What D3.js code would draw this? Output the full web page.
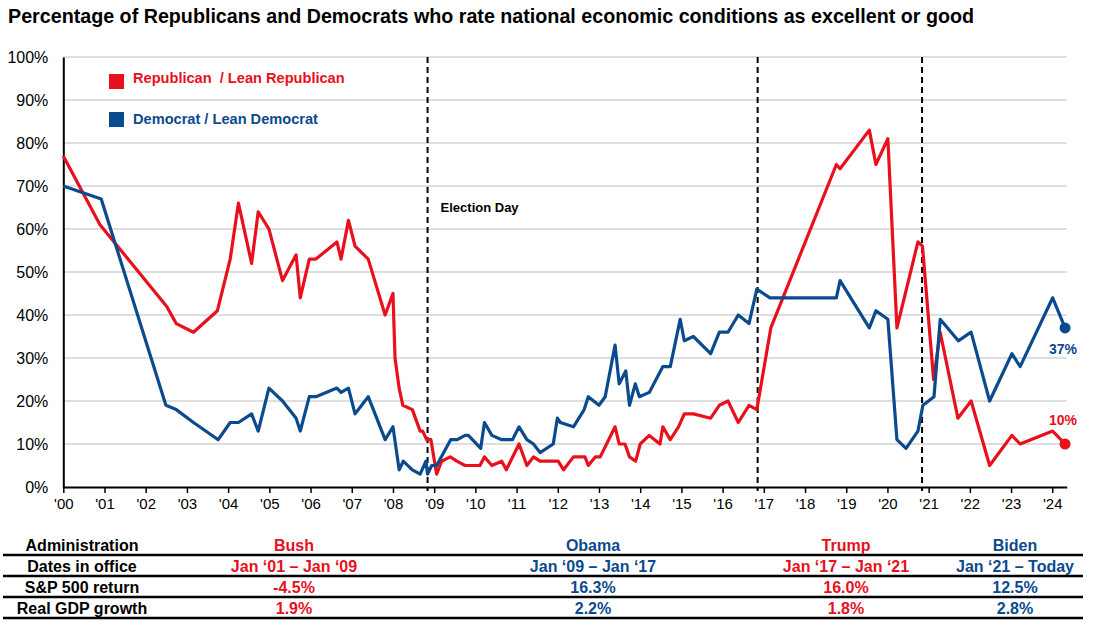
<!DOCTYPE html>
<html><head><meta charset="utf-8">
<script src="https://cdn.jsdelivr.net/npm/d3@7/dist/d3.min.js"></script>
<style>
html,body{margin:0;padding:0;background:#fff;}
svg{display:block;font-family:Arial,"Liberation Sans",sans-serif;}
</style></head>
<body>
<svg id="c" width="1093" height="631"></svg>
<script>
// ---------- data ----------
const repDates = [2000.00,2000.89,2002.51,2002.74,2003.16,2003.74,2004.05,2004.25,2004.57,2004.73,2004.99,2005.32,2005.65,2005.75,2005.97,2006.13,2006.64,2006.74,2006.92,2007.08,2007.40,2007.81,2008.00,2008.05,2008.15,2008.24,2008.47,2008.66,2008.72,2008.82,2008.92,2009.06,2009.18,2009.39,2009.55,2009.75,2010.11,2010.22,2010.40,2010.64,2010.75,2011.06,2011.25,2011.41,2011.57,2012.01,2012.14,2012.38,2012.66,2012.74,2012.91,2013.03,2013.39,2013.49,2013.63,2013.74,2013.89,2014.00,2014.22,2014.48,2014.55,2014.73,2014.93,2015.07,2015.29,2015.71,2015.92,2016.13,2016.38,2016.64,2016.83,2017.17,2018.76,2018.85,2019.56,2019.72,2020.01,2020.23,2020.74,2020.85,2021.12,2021.28,2021.71,2022.03,2022.48,2023.02,2023.22,2024.01,2024.31];
const repValues = [77,61,42,38,36,41,53,66,52,64,60,48,54,44,53,53,57,53,62,56,53,40,45,30,23,19,18,13,13,11,11,3,6,7,6,5,5,7,5,6,4,10,5,7,6,6,4,7,7,5,7,7,14,10,10,7,6,10,12,10,14,11,14,17,17,16,19,20,15,19,18,37,75,74,83,75,81,37,57,56,25,36,16,20,5,12,10,13,10];

const demDates = [2000.00,2000.92,2002.49,2002.74,2003.16,2003.76,2004.05,2004.25,2004.57,2004.73,2004.99,2005.32,2005.65,2005.75,2005.97,2006.13,2006.64,2006.74,2006.92,2007.08,2007.40,2007.81,2008.00,2008.15,2008.25,2008.47,2008.66,2008.80,2008.84,2008.94,2009.06,2009.40,2009.56,2009.75,2009.83,2010.13,2010.22,2010.40,2010.64,2010.90,2011.06,2011.25,2011.41,2011.57,2011.89,2011.99,2012.06,2012.38,2012.64,2012.74,2013.00,2013.15,2013.39,2013.49,2013.65,2013.74,2013.88,2013.98,2014.22,2014.55,2014.73,2014.97,2015.07,2015.29,2015.71,2015.92,2016.13,2016.38,2016.64,2016.83,2017.15,2018.76,2018.85,2019.56,2019.72,2020.01,2020.23,2020.45,2020.74,2020.86,2021.13,2021.28,2021.72,2022.03,2022.48,2023.02,2023.22,2024.01,2024.31];
const demValues = [70,67,19,18,15,11,15,15,17,13,23,20,16,13,21,21,23,22,23,17,21,11,14,4,6,4,3,6,3,5,5,11,11,12,12,9,15,12,11,11,14,11,10,8,10,16,15,14,18,21,19,21,33,24,27,19,24,21,22,28,28,39,34,35,31,36,36,40,38,46,44,44,48,37,41,39,11,9,13,19,21,39,34,36,20,31,28,44,37];

const electionDays = [2008.84, 2016.85, 2020.84];
const yearTicks = d3.range(2000, 2025);
const yTicks = d3.range(0, 101, 10);

const seriesNames = ["Republican  / Lean Republican", "Democrat / Lean Democrat"];
const rowLabels = ["Administration", "Dates in office", "S&P 500 return", "Real GDP growth"];
const admins = ["Bush", "Obama", "Trump", "Biden"];
const officeDates = ["Jan \u201801 \u2013 Jan \u201809", "Jan \u201809 \u2013 Jan \u201817", "Jan \u201817 \u2013 Jan \u201821", "Jan \u201821 \u2013 Today"];
const sp500 = ["-4.5%", "16.3%", "16.0%", "12.5%"];
const gdp = ["1.9%", "2.2%", "1.8%", "2.8%"];

// ---------- styles / layout ----------
const RED = "#e8101c", BLUE = "#0b4a8c";
const adminColors = [RED, BLUE, RED, BLUE];
const plot = {left: 63.3, right: 1066.7, top: 57, bottom: 487};
const svg = d3.select("#c");

svg.append("text").attr("x", 8).attr("y", 23)
  .attr("font-size", 19.7).attr("font-weight", "bold").attr("fill", "#000")
  .text("Percentage of Republicans and Democrats who rate national economic conditions as excellent or good");

const x = d3.scaleLinear().domain([2000, 2024.35]).range([plot.left, plot.right]);
const y = d3.scaleLinear().domain([0, 100]).range([plot.bottom, plot.top]);

// gridlines
svg.append("g").selectAll("line").data(yTicks.filter(d => d > 0)).join("line")
  .attr("x1", plot.left).attr("x2", plot.right)
  .attr("y1", d => y(d)).attr("y2", d => y(d))
  .attr("stroke", "#d3d3d3").attr("stroke-width", 1.5);

// y axis
const yAxis = svg.append("g").attr("transform", `translate(${plot.left},0)`)
  .call(d3.axisLeft(y).tickValues(yTicks).tickSize(0).tickPadding(15).tickFormat(d => d + "%"));
yAxis.select(".domain").attr("stroke", "#000").attr("stroke-width", 2);
yAxis.selectAll("text").attr("font-size", 16).attr("font-family", "Arial, 'Liberation Sans', sans-serif").attr("fill", "#000");

// x axis
const xAxis = svg.append("g").attr("transform", `translate(0,${plot.bottom})`)
  .call(d3.axisBottom(x).tickValues(yearTicks).tickSize(6).tickPadding(5).tickSizeOuter(0)
    .tickFormat(d => "'" + String(d).slice(2)));
xAxis.select(".domain").attr("stroke", "#000").attr("stroke-width", 2);
xAxis.selectAll(".tick line").attr("stroke", "#000").attr("stroke-width", 1.5);
xAxis.selectAll("text").attr("font-size", 15).attr("font-family", "Arial, 'Liberation Sans', sans-serif").attr("fill", "#000");

// election day dashed lines
svg.append("g").selectAll("line").data(electionDays).join("line")
  .attr("x1", d => x(d)).attr("x2", d => x(d))
  .attr("y1", plot.top).attr("y2", plot.bottom + 4)
  .attr("stroke", "#000").attr("stroke-width", 2).attr("stroke-dasharray", "6,4");
svg.append("text").attr("x", x(electionDays[0]) + 13).attr("y", 212)
  .attr("font-size", 13).attr("font-weight", "bold").text("Election Day");

// lines
const line = d3.line().x(d => x(d[0])).y(d => y(d[1]));
const rep = repDates.map((d, i) => [d, repValues[i]]);
const dem = demDates.map((d, i) => [d, demValues[i]]);
svg.append("path").datum(rep).attr("d", line).attr("fill", "none")
  .attr("stroke", RED).attr("stroke-width", 3.2).attr("stroke-linejoin", "round");
svg.append("path").datum(dem).attr("d", line).attr("fill", "none")
  .attr("stroke", BLUE).attr("stroke-width", 3.2).attr("stroke-linejoin", "round");

// end dots + labels
const lastR = rep[rep.length - 1], lastD = dem[dem.length - 1];
svg.append("circle").attr("cx", x(lastD[0])).attr("cy", y(lastD[1])).attr("r", 5.5).attr("fill", BLUE);
svg.append("circle").attr("cx", x(lastR[0])).attr("cy", y(lastR[1])).attr("r", 5.5).attr("fill", RED);
svg.append("text").attr("x", x(lastD[0]) - 2).attr("y", y(lastD[1]) + 26).attr("text-anchor", "middle")
  .attr("font-size", 14).attr("font-weight", "bold").attr("fill", BLUE).text(lastD[1] + "%");
svg.append("text").attr("x", x(lastR[0]) - 2).attr("y", y(lastR[1]) - 19).attr("text-anchor", "middle")
  .attr("font-size", 14).attr("font-weight", "bold").attr("fill", RED).text(lastR[1] + "%");

// legend
const legColors = [RED, BLUE];
const leg = svg.append("g");
seriesNames.forEach((n, i) => {
  leg.append("rect").attr("x", 109).attr("y", 74 + i * 38).attr("width", 15).attr("height", 15).attr("fill", legColors[i]);
  leg.append("text").attr("x", 133).attr("y", 83 + i * 41).attr("font-size", 14.6).attr("font-weight", "bold")
    .attr("fill", legColors[i]).style("white-space", "pre").text(n);
});

// table
const labelCenter = 82;
const colCenters = [294, 593, 846, 1015];
const rowCenters = [545, 566, 587, 608];
const rowLines = [555, 576, 597, 618];
const tbl = svg.append("g").attr("font-size", 16).attr("font-weight", "bold");
tbl.selectAll("line").data(rowLines).join("line")
  .attr("x1", 3).attr("x2", 1083).attr("y1", d => d).attr("y2", d => d)
  .attr("stroke", "#000").attr("stroke-width", 2.5);
rowLabels.forEach((t, r) => {
  tbl.append("text").attr("x", labelCenter).attr("y", rowCenters[r] + 6).attr("text-anchor", "middle").attr("fill", "#000").text(t);
});
const rows = [admins, officeDates, sp500, gdp];
rows.forEach((vals, r) => {
  vals.forEach((t, c) => {
    tbl.append("text").attr("x", colCenters[c]).attr("y", rowCenters[r] + 6).attr("text-anchor", "middle")
      .attr("fill", adminColors[c]).text(t);
  });
});
</script>
</body></html>
